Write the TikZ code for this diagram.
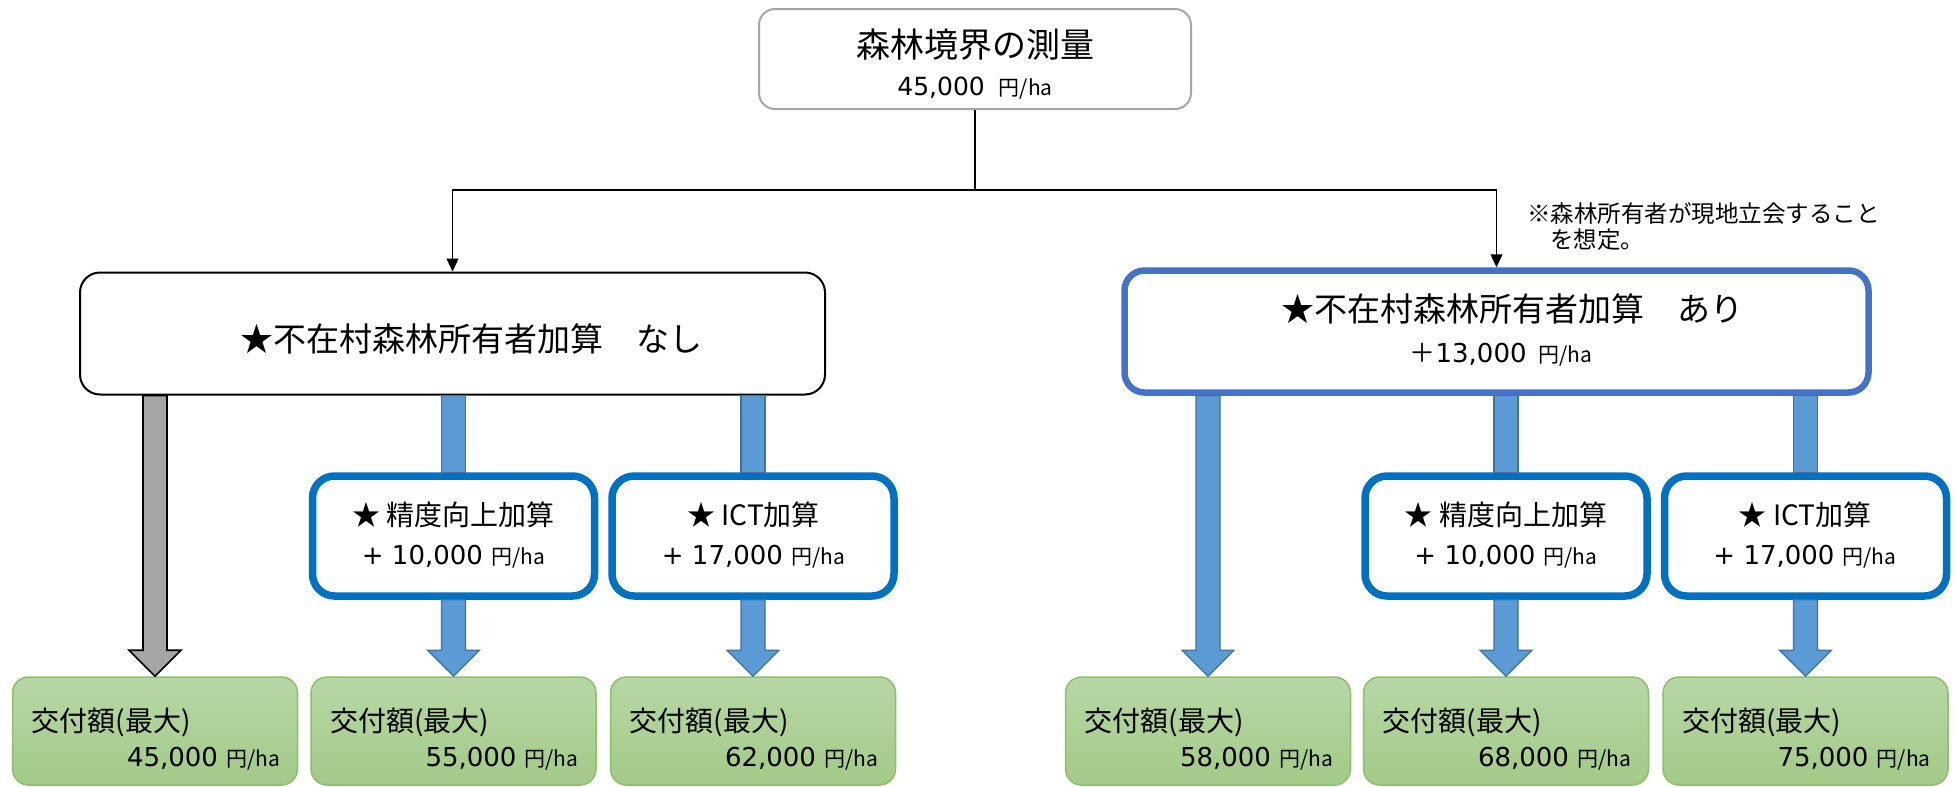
\documentclass[tikz,border=0pt]{standalone}
\usepackage{fontspec}
\setmainfont{DejaVu Sans}
\newfontfamily\jp{Noto Sans CJK JP}
\usetikzlibrary{calc,arrows.meta}

\definecolor{waku}{HTML}{A6A6A6}
\definecolor{aoari}{HTML}{4472C4}
\definecolor{aokasan}{HTML}{0070C0}
\definecolor{yaji}{HTML}{5B9BD5}
\definecolor{yajisen}{HTML}{41719C}
\definecolor{haiyaji}{HTML}{A5A5A5}
\definecolor{midoriue}{HTML}{B7D7A5}
\definecolor{midorishita}{HTML}{A2CA87}
\definecolor{midorisen}{HTML}{8CBF6B}

\newcommand{\sz}[1]{\fontsize{#1}{#1}\selectfont}
\newcommand{\enha}{{\jp\sz{21}円/ha}}
% 太矢印（始点，先端，スタイル）
\newcommand{\futoyaji}[3]{%
  \filldraw[#3] ($(#1)+(-12,0)$) -- ($(#2)+(-12,-26)$) -- ($(#2)+(-26,-26)$) -- (#2)
    -- ($(#2)+(26,-26)$) -- ($(#2)+(12,-26)$) -- ($(#1)+(12,0)$) -- cycle;}
% 矢じりなしの軸
\newcommand{\jiku}[3]{%
  \filldraw[#3] ($(#1)+(-12,0)$) rectangle ($(#2)+(12,0)$);}

\begin{document}
\begin{tikzpicture}[x=1pt,y=-1pt,
  survbox/.style={draw=waku,line width=2pt,rounded corners=16pt,minimum width=432pt,minimum height=100pt,inner sep=0pt},
  nashibox/.style={draw=black,line width=2pt,rounded corners=20pt,minimum width=745pt,minimum height=122pt,inner sep=0pt},
  aribox/.style={draw=aoari,line width=6.5pt,rounded corners=20pt,minimum width=744pt,minimum height=122pt,inner sep=0pt},
  kasanbox/.style={draw=aokasan,line width=7.5pt,rounded corners=22pt,minimum width=282pt,minimum height=120pt,inner sep=0pt},
  kofubox/.style={draw=midorisen,line width=1.5pt,rounded corners=16pt,top color=midoriue,bottom color=midorishita,minimum width=285pt,minimum height=108pt,inner sep=0pt},
  txt/.style={inner sep=0pt},
  conn/.style={line width=1.3pt,-{Triangle[length=13pt,width=12pt]}},
  aoyaji/.style={fill=yaji,draw=yajisen,line width=1.2pt},
  haiiro/.style={fill=haiyaji,draw=black,line width=1.6pt}]
\useasboundingbox (0,0) rectangle (1957,787);
% 森林境界の測量
\node[survbox] (survey) at (975,59) {};
\node[txt,font={\jp\sz{34}}] (surveyname) at (975,45) {森林境界の測量};
\node[txt] (surveyrate) at (975,88.5) {\sz{25}45,000\hspace{14pt}\enha};
% 不在村森林所有者加算 なし
\node[nashibox] (nashi) at (452.5,333.5) {};
\node[txt,font={\jp\sz{33}}] (nashitext) at (471,339) {★不在村森林所有者加算　なし};
% 不在村森林所有者加算 あり
\node[aribox] (ari) at (1496.5,331.5) {};
\node[txt,font={\jp\sz{33}}] (aritext) at (1512,309) {★不在村森林所有者加算　あり};
\node[txt] (arirate) at (1501,355) {{\jp\sz{26}＋}\sz{26}13,000\hspace{12pt}\enha};
% 注
\node[txt,anchor=west,font={\jp\sz{23.5}}] (note1) at (1527,214) {※森林所有者が現地立会すること};
\node[txt,anchor=west,font={\jp\sz{23.5}}] (note2) at (1550,240) {を想定。};
% 分岐線
\coordinate (fork) at (975,190);
\draw[conn] (survey.south) -- (fork) -| (nashi.north);
\draw[conn] (fork) -| (ari.north);
% 精度向上加算・ICT加算
\node[kasanbox] (seido1) at (453.5,536) {};
\node[txt,font={\jp\sz{28}}] (seido1a) at (453.5,515) {★ 精度向上加算};
\node[txt] (seido1b) at (453.5,557) {\sz{26}+ 10,000 \enha};
\node[kasanbox] (ict1) at (753,536) {};
\node[txt,font={\jp\sz{28}}] (ict1a) at (753.5,515) {★ ICT加算};
\node[txt] (ict1b) at (753.5,557) {\sz{26}+ 17,000 \enha};
\node[kasanbox] (seido2) at (1506,536) {};
\node[txt,font={\jp\sz{28}}] (seido2a) at (1506,515) {★ 精度向上加算};
\node[txt] (seido2b) at (1506,557) {\sz{26}+ 10,000 \enha};
\node[kasanbox] (ict2) at (1805.5,536) {};
\node[txt,font={\jp\sz{28}}] (ict2a) at (1805,515) {★ ICT加算};
\node[txt] (ict2b) at (1805,557) {\sz{26}+ 17,000 \enha};
% 交付額
\node[kofubox] (kofu1) at (155,731) {};
\node[txt,anchor=west,font={\jp\sz{28}}] (kofu1a) at ($(kofu1.north west)+(20,46)$) {交付額(最大)};
\node[txt,anchor=east] (kofu1b) at ($(kofu1.north east)+(-18,82)$) {\sz{26}45,000 \enha};
\node[kofubox] (kofu2) at (453.5,731) {};
\node[txt,anchor=west,font={\jp\sz{28}}] (kofu2a) at ($(kofu2.north west)+(20,46)$) {交付額(最大)};
\node[txt,anchor=east] (kofu2b) at ($(kofu2.north east)+(-18,82)$) {\sz{26}55,000 \enha};
\node[kofubox] (kofu3) at (753,731) {};
\node[txt,anchor=west,font={\jp\sz{28}}] (kofu3a) at ($(kofu3.north west)+(20,46)$) {交付額(最大)};
\node[txt,anchor=east] (kofu3b) at ($(kofu3.north east)+(-18,82)$) {\sz{26}62,000 \enha};
\node[kofubox] (kofu4) at (1208,731) {};
\node[txt,anchor=west,font={\jp\sz{28}}] (kofu4a) at ($(kofu4.north west)+(20,46)$) {交付額(最大)};
\node[txt,anchor=east] (kofu4b) at ($(kofu4.north east)+(-18,82)$) {\sz{26}58,000 \enha};
\node[kofubox] (kofu5) at (1506,731) {};
\node[txt,anchor=west,font={\jp\sz{28}}] (kofu5a) at ($(kofu5.north west)+(20,46)$) {交付額(最大)};
\node[txt,anchor=east] (kofu5b) at ($(kofu5.north east)+(-18,82)$) {\sz{26}68,000 \enha};
\node[kofubox] (kofu6) at (1805.5,731) {};
\node[txt,anchor=west,font={\jp\sz{28}}] (kofu6a) at ($(kofu6.north west)+(20,46)$) {交付額(最大)};
\node[txt,anchor=east] (kofu6b) at ($(kofu6.north east)+(-18,82)$) {\sz{26}75,000 \enha};
% 矢印
\futoyaji{nashi.south -| kofu1.north}{kofu1.north}{haiiro}
\jiku{nashi.south -| seido1.north}{seido1.north}{aoyaji}
\futoyaji{seido1.south}{kofu2.north}{aoyaji}
\jiku{nashi.south -| ict1.north}{ict1.north}{aoyaji}
\futoyaji{ict1.south}{kofu3.north}{aoyaji}
\futoyaji{ari.south -| kofu4.north}{kofu4.north}{aoyaji}
\jiku{ari.south -| seido2.north}{seido2.north}{aoyaji}
\futoyaji{seido2.south}{kofu5.north}{aoyaji}
\jiku{ari.south -| ict2.north}{ict2.north}{aoyaji}
\futoyaji{ict2.south}{kofu6.north}{aoyaji}
\end{tikzpicture}
\end{document}
